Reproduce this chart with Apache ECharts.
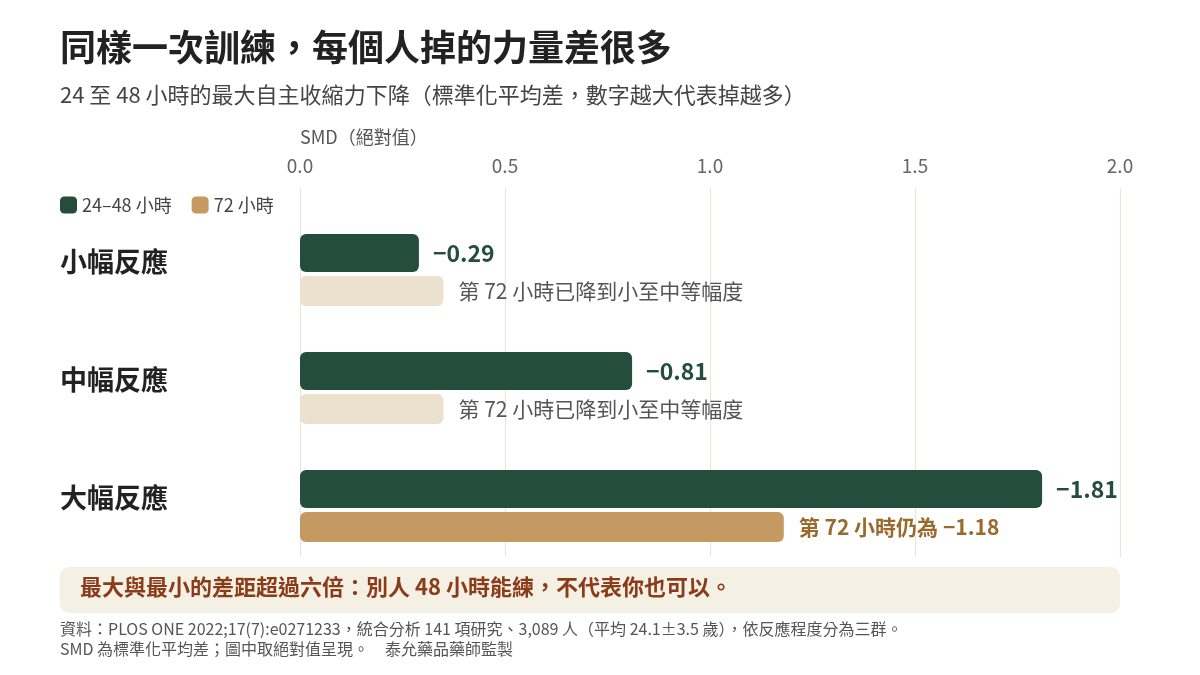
<!DOCTYPE html>
<html><head><meta charset="utf-8">
<script src="https://cdn.jsdelivr.net/npm/echarts@6/dist/echarts.min.js"></script>
<style>html,body{margin:0;padding:0;background:#fff}#c{width:1200px;height:675px}</style>
</head><body><div id="c"></div>
<script>
const categories = ['小幅反應', '中幅反應', '大幅反應'];
const seriesNames = ['24–48 小時', '72 小時'];
const smd2448 = [0.29, 0.81, 1.81];
const smd72 = [0.35, 0.35, 1.18];
const labels72 = ['第 72 小時已降到小至中等幅度', '第 72 小時已降到小至中等幅度', '第 72 小時仍為 −1.18'];
const highlight72 = [false, false, true];
const xMin = 0, xMax = 2.0, xStep = 0.5;

const FONT = '"Noto Sans CJK TC", "Noto Sans", sans-serif';
const GREEN = '#254d3d', TAN = '#c49a62', BEIGE = '#ece1cf';
const TAN_TEXT = '#9a6a2c';

const chart = echarts.init(document.getElementById('c'));
const gridL = 300, gridR = 80;

chart.setOption({
  backgroundColor: '#ffffff',
  textStyle: { fontFamily: FONT },
  animation: false,
  legend: {
    left: 55, top: 191,
    icon: 'roundRect', itemWidth: 17, itemHeight: 17, itemGap: 20,
    textStyle: { fontFamily: FONT, fontSize: 18, color: '#444' },
    data: [
      { name: seriesNames[0], itemStyle: { color: GREEN } },
      { name: seriesNames[1], itemStyle: { color: TAN } }
    ]
  },
  grid: [
    { left: gridL, right: gridR, top: 188, bottom: 118 },
    { left: gridL, right: gridR, top: 211, bottom: 110 }
  ],
  xAxis: [
    {
      gridIndex: 0, type: 'value', position: 'top', min: xMin, max: xMax, interval: xStep,
      axisLine: { show: false }, axisTick: { show: false },
      axisLabel: { margin: 13, fontSize: 19, color: '#666', fontFamily: FONT, formatter: v => v.toFixed(1) },
      splitLine: { show: true, lineStyle: { color: '#e9e6e0', width: 1.2 } }
    },
    { gridIndex: 1, type: 'value', min: xMin, max: xMax, show: false }
  ],
  yAxis: [
    { gridIndex: 0, type: 'value', show: false },
    {
      gridIndex: 1, type: 'category', inverse: true, data: categories,
      axisLine: { show: false }, axisTick: { show: false }, splitLine: { show: false },
      axisLabel: {
        align: 'left', verticalAlign: 'bottom', lineHeight: 16, margin: 240,
        fontSize: 27, fontWeight: 'bold', color: '#222', fontFamily: FONT
      }
    }
  ],
  series: [
    {
      name: seriesNames[0], type: 'bar', xAxisIndex: 1, yAxisIndex: 1,
      barWidth: 38, barGap: '10.5%',
      itemStyle: { color: GREEN, borderRadius: 6 },
      label: {
        show: true, position: 'right', distance: 14,
        fontSize: 23, fontWeight: 'bold', color: GREEN, fontFamily: FONT,
        formatter: p => '−' + p.value.toFixed(2)
      },
      data: smd2448
    },
    {
      name: seriesNames[1], type: 'bar', xAxisIndex: 1, yAxisIndex: 1,
      barWidth: 30, barGap: '10.5%',
      itemStyle: { color: TAN, borderRadius: 6 },
      label: {
        show: true, position: 'right', distance: 15,
        fontSize: 21, color: '#555', fontFamily: FONT,
        formatter: p => labels72[p.dataIndex]
      },
      data: smd72.map((v, i) => ({
        value: v,
        itemStyle: { color: highlight72[i] ? TAN : BEIGE },
        label: highlight72[i] ? { color: TAN_TEXT, fontWeight: 'bold' } : {}
      }))
    }
  ],
  graphic: [
    { type: 'text', left: 60, top: 29, style: { text: '同樣一次訓練，每個人掉的力量差很多', font: 'bold 36px ' + FONT, fill: '#222' } },
    { type: 'text', left: 60, top: 84, style: { text: '24 至 48 小時的最大自主收縮力下降（標準化平均差，數字越大代表掉越多）', font: '22px ' + FONT, fill: '#444' } },
    { type: 'text', left: 300, top: 128, style: { text: 'SMD（絕對值）', font: '18px ' + FONT, fill: '#555' } },
    { type: 'rect', left: 60, top: 567, shape: { width: 1060, height: 46, r: 9 }, style: { fill: '#f5f0e4' } },
    { type: 'text', left: 80, top: 576, style: { text: '最大與最小的差距超過六倍：別人 48 小時能練，不代表你也可以。', font: 'bold 22px ' + FONT, fill: '#8a3b1a' } },
    { type: 'text', left: 60, top: 621, style: { text: '資料：PLOS ONE 2022;17(7):e0271233，統合分析 141 項研究、3,089 人（平均 24.1±3.5 歲），依反應程度分為三群。', font: '16px ' + FONT, fill: '#555' } },
    { type: 'text', left: 60, top: 641, style: { text: 'SMD 為標準化平均差；圖中取絕對值呈現。　泰允藥品藥師監製', font: '16px ' + FONT, fill: '#555' } }
  ]
});
</script></body></html>
